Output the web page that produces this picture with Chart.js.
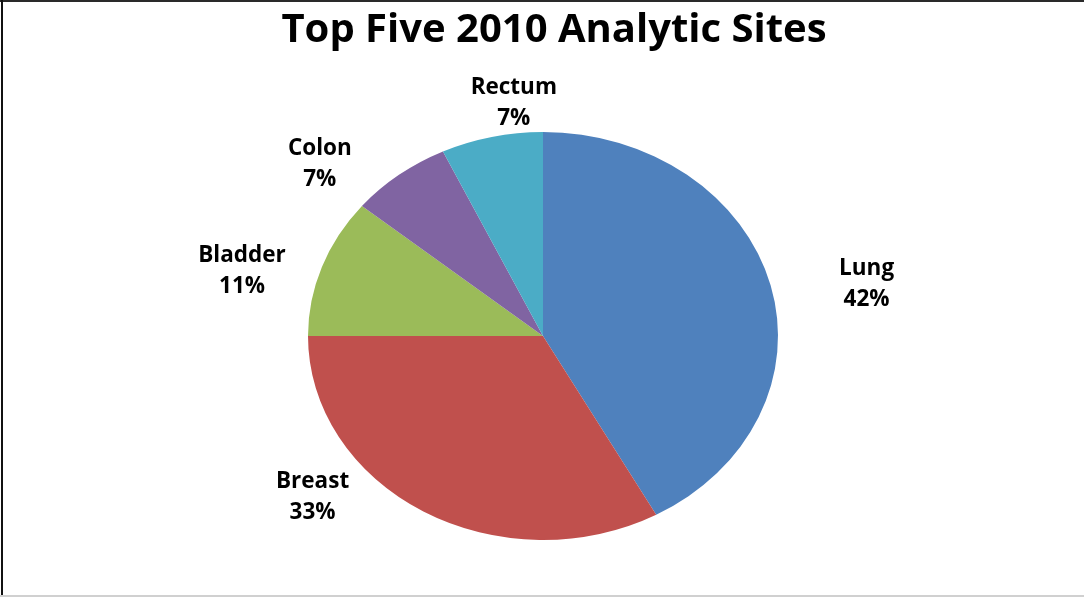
<!DOCTYPE html>
<html>
<head>
<meta charset="utf-8">
<script src="https://cdn.jsdelivr.net/npm/chart.js@4"></script>
<style>
  body { margin: 0; background: #fff; }
  #wrap { position: relative; width: 1084px; height: 597px; overflow: hidden; }
  #wrap canvas { position: absolute; left: 0; top: 0; }
  .edge { position: absolute; }
</style>
</head>
<body>
<div id="wrap">
  <canvas id="chart"></canvas>
  <div class="edge" style="left:0;top:0;width:1084px;height:2px;background:#2a2a2a"></div>
  <div class="edge" style="left:1px;top:0;width:2px;height:597px;background:#111"></div>
  <div class="edge" style="left:0;top:595px;width:1084px;height:2px;background:#d0d0d0"></div>
</div>
<script>
// data
const TITLE = 'Top Five 2010 Analytic Sites';
const SITES = ['Lung', 'Breast', 'Bladder', 'Colon', 'Rectum'];
const SHARES = [42, 33, 11, 7, 7];
const COLORS = ['#4F81BD', '#C0504D', '#9BBB59', '#8064A2', '#4BACC6'];

// where each label sits, relative to its slice (degrees turned, times radius)
const LABEL_SPOTS = [
  { turn: 4, reach: 1.40 },
  { turn: 20.5, reach: 1.26 },
  { turn: -5.8, reach: 1.32 },
  { turn: -10.6, reach: 1.27 },
  { turn: 6.4, reach: 1.15 }
];

// the pie in the picture is an ellipse, wider than tall
const SQUASH = 235 / 204;

var ellipse = {
  id: 'ellipse',
  beforeDatasetsDraw(chart) {
    var arc = chart.getDatasetMeta(0).data[0];
    var ctx = chart.ctx;
    ctx.save();
    ctx.translate(arc.x, arc.y);
    ctx.scale(SQUASH, 1);
    ctx.translate(-arc.x, -arc.y);
  },
  afterDatasetsDraw(chart) {
    chart.ctx.restore();
  }
};

var labels = {
  id: 'labels',
  afterDraw(chart) {
    var ctx = chart.ctx;
    ctx.save();
    ctx.fillStyle = '#000';
    ctx.textAlign = 'center';
    ctx.textBaseline = 'middle';

    // title
    ctx.font = 'bold 40px "Open Sans"';
    ctx.fillText(TITLE, 554, 31);

    // slice labels
    ctx.font = 'bold 22.5px "Open Sans"';
    chart.getDatasetMeta(0).data.forEach(function (arc, i) {
      var mid = (arc.startAngle + arc.endAngle) / 2 + LABEL_SPOTS[i].turn * Math.PI / 180;
      var r = arc.outerRadius * LABEL_SPOTS[i].reach;
      var x = arc.x + Math.cos(mid) * r * SQUASH;
      var y = arc.y + Math.sin(mid) * r;
      ctx.fillText(SITES[i], x, y - 15.5);
      ctx.fillText(SHARES[i] + '%', x, y + 15.5);
    });
    ctx.restore();
  }
};

var chart = new Chart(document.getElementById('chart'), {
  type: 'pie',
  data: {
    labels: SITES,
    datasets: [{
      data: SHARES,
      backgroundColor: COLORS,
      borderWidth: 0
    }]
  },
  options: {
    responsive: true,
    maintainAspectRatio: false,
    animation: false,
    layout: {
      padding: { top: 132, bottom: 57, left: 300, right: 298 }
    },
    plugins: {
      legend: { display: false },
      tooltip: { enabled: false },
      title: { display: false }
    }
  },
  plugins: [ellipse, labels]
});
</script>
</body>
</html>
